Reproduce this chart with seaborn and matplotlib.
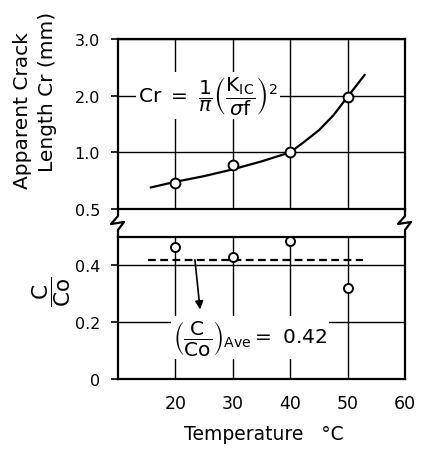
import numpy as np
import matplotlib
matplotlib.use("Agg")
import matplotlib.pyplot as plt
import seaborn as sns
from matplotlib.lines import Line2D

sns.set_theme(style="white")
plt.rcParams.update({
    'font.family': ['DejaVu Sans'],
    'mathtext.fontset': 'dejavusans',
    'axes.edgecolor': 'black',
    'axes.linewidth': 1.6,
    'text.color': 'black',
    'xtick.color': 'black',
    'ytick.color': 'black',
})

# data
temps = [20, 30, 40, 50]
crack_len = [0.73, 0.89, 1.0, 1.98]
# fitted curve
curve_t = [15.7, 20, 25, 30, 35, 40, 42.5, 45, 47.5, 50, 53]
curve_cr = [0.69, 0.74, 0.79, 0.85, 0.92, 1.0, 1.19, 1.39, 1.65, 1.98, 2.37]

ratio = [0.465, 0.43, 0.487, 0.322]
ratio_ave = 0.42
ave_t = [15.2, 52.6]

top_ticks = [0.5, 1.0, 2.0, 3.0]
top_labels = ["0.5", "1.0", "2.0", "3.0"]
bottom_ticks = [0, 0.2, 0.4]
bottom_labels = ["0", "0.2", "0.4"]
x_ticks = [20, 30, 40, 50, 60]
x_labels = ["20", "30", "40", "50", "60"]


# the upper axis has equal spacing for 0.5, 1, 2, 3
def fwd(v):
    v = np.asarray(v, dtype=float)
    return np.where(v < 1, 2 * v - 1, v)


def inv(p):
    p = np.asarray(p, dtype=float)
    return np.where(p < 1, (p + 1) / 2, p)


W, H = 424, 452
fig = plt.figure(figsize=(W / 100, H / 100), dpi=100)

left, right = 118, 405
top_t, top_b = 40, 210
bot_t, bot_b = 238, 380
ax1 = fig.add_axes([left / W, 1 - top_b / H, (right - left) / W, (top_b - top_t) / H])
ax2 = fig.add_axes([left / W, 1 - bot_b / H, (right - left) / W, (bot_b - bot_t) / H])

grid_kw = dict(color="black", linewidth=1.0)
for ax in (ax1, ax2):
    ax.set_facecolor("white")
    ax.set_axisbelow(True)
    ax.grid(True, **grid_kw)
    ax.set_xlim(10, 60)
    ax.set_xticks(x_ticks)
    ax.tick_params(axis="x", length=0)
    ax.tick_params(axis="y", direction="out", length=5, width=1.2, pad=8, labelsize=11.5, left=True)

# --- upper panel: apparent crack length
ax1.set_yscale("function", functions=(fwd, inv))
ax1.set_ylim(0.5, 3.0)
ax1.set_yticks(top_ticks)
ax1.set_yticklabels(top_labels)
ax1.set_xticklabels([])
sns.lineplot(x=curve_t, y=curve_cr, ax=ax1, color="black", linewidth=1.6, zorder=3)
sns.scatterplot(x=temps, y=crack_len, ax=ax1, marker="o", s=50, facecolor="white",
                edgecolor="black", linewidth=1.4, zorder=4)
ax1.text(13.5, 2.0, r"$\mathrm{Cr}\ =\ \dfrac{1}{\pi}\left(\dfrac{\mathrm{K_{IC}}}{\sigma\mathrm{f}}\right)^2$",
         fontsize=14.5, ha="left", va="center", zorder=5,
         bbox=dict(boxstyle="square,pad=0.1", facecolor="white", edgecolor="none"))

# --- lower panel: C/Co
ax2.set_ylim(0, 0.5)
ax2.set_yticks(bottom_ticks)
ax2.set_yticklabels(bottom_labels)
ax2.set_xticklabels(x_labels, fontsize=12.5)
ax2.tick_params(axis="x", pad=11)
sns.scatterplot(x=temps, y=ratio, ax=ax2, marker="o", s=42, facecolor="white",
                edgecolor="black", linewidth=1.4, zorder=4)
ax2.plot(ave_t, [ratio_ave, ratio_ave], color="black", linestyle=(0, (3.5, 2.0)),
         linewidth=1.6, zorder=3)
ax2.annotate("", xy=(24.3, 0.245), xytext=(23.4, ratio_ave),
             arrowprops=dict(arrowstyle="-|>", color="black", lw=1.2,
                             mutation_scale=12, shrinkA=0, shrinkB=0))
ax2.text(19.5, 0.145, r"$\left(\dfrac{\mathrm{C}}{\mathrm{Co}}\right)_{\mathrm{Ave}}=\ 0.42$",
         fontsize=14.5, ha="left", va="center", zorder=5,
         bbox=dict(boxstyle="square,pad=0.1", facecolor="white", edgecolor="none"))

# axis titles
fig.text(23 / W, 1 - 111 / H, "Apparent Crack", rotation=90, fontsize=14.5,
         ha="center", va="center")
fig.text(48 / W, 1 - 92 / H, "Length Cr (mm)", rotation=90, fontsize=14.5,
         ha="center", va="center")
fig.text(52 / W, 1 - 292 / H, r"$\dfrac{\mathrm{C}}{\mathrm{Co}}$", rotation=90,
         fontsize=15.5, ha="center", va="center")
fig.text(264 / W, 1 - 435 / H, "Temperature   °C", fontsize=13.5, ha="center", va="center")


# break marks joining the two panels
def zigzag(xp):
    ym = (top_b + bot_t) / 2
    xs = [xp, xp, xp - 7, xp + 6, xp, xp]
    ys = [top_b, ym - 7, ym + 1, ym - 1, ym + 7, bot_t]
    fig.add_artist(Line2D([x / W for x in xs], [1 - y / H for y in ys],
                          transform=fig.transFigure, color="black", linewidth=1.6))


zigzag(left)
zigzag(right)

fig.savefig("out.png", dpi=100)
